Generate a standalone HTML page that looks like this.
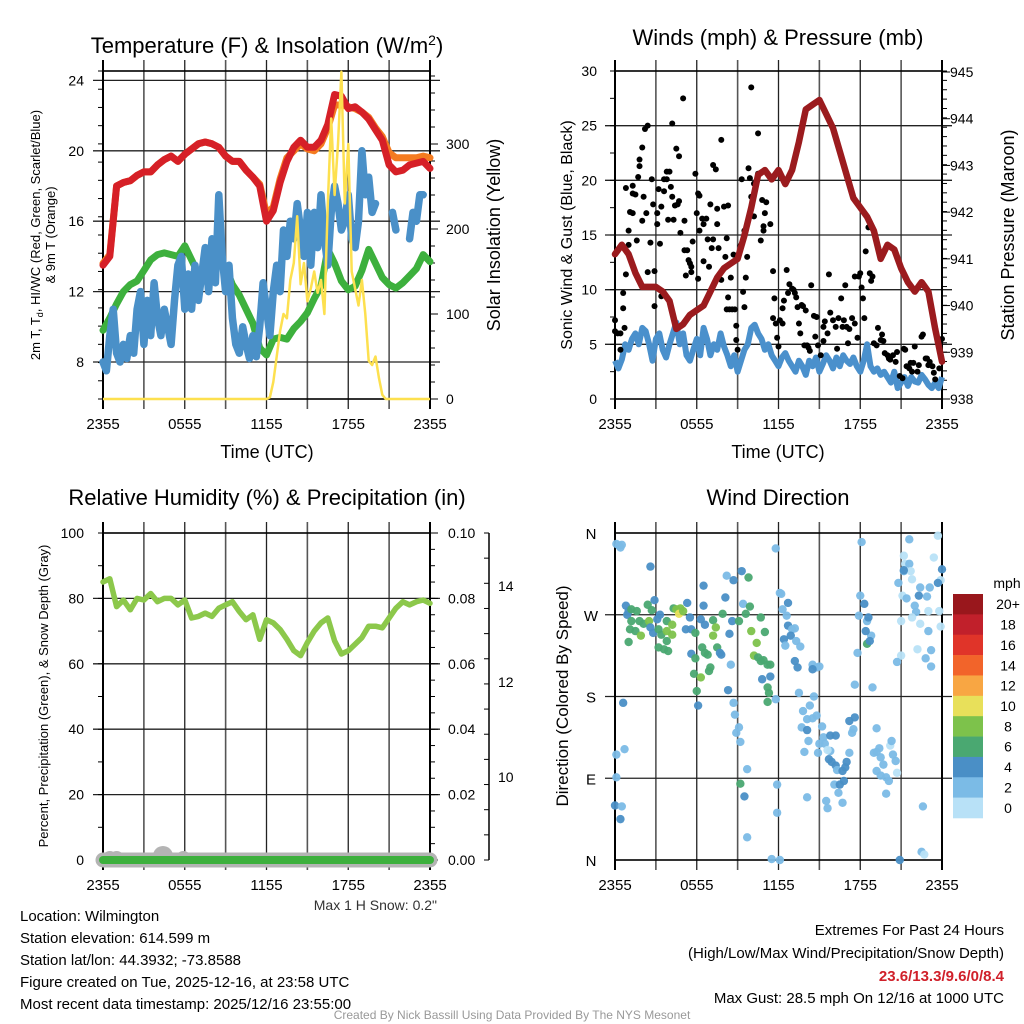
<!DOCTYPE html>
<html><head><meta charset="utf-8"><style>
html,body{margin:0;padding:0;background:#fff}
svg{display:block;font-family:"Liberation Sans",sans-serif}
</style></head><body>
<svg id="root" width="1024" height="1024" viewBox="0 0 1024 1024" xmlns="http://www.w3.org/2000/svg">
<g id="p1"></g>
<g id="p2"></g>
<g id="p3"></g>
<g id="p4"></g>
<g id="txt">
<text x="20" y="921" font-size="15">Location: Wilmington</text>
<text x="20" y="943" font-size="15">Station elevation: 614.599 m</text>
<text x="20" y="965" font-size="15">Station lat/lon: 44.3932; -73.8588</text>
<text x="20" y="987" font-size="15">Figure created on Tue, 2025-12-16, at 23:58 UTC</text>
<text x="20" y="1009" font-size="15">Most recent data timestamp: 2025/12/16 23:55:00</text>
<text x="1004" y="935" font-size="15" text-anchor="end">Extremes For Past 24 Hours</text>
<text x="1004" y="958" font-size="15" text-anchor="end">(High/Low/Max Wind/Precipitation/Snow Depth)</text>
<text x="1004" y="981" font-size="15" font-weight="bold" fill="#d0202a" text-anchor="end">23.6/13.3/9.6/0/8.4</text>
<text x="1004" y="1003" font-size="15" text-anchor="end">Max Gust: 28.5 mph On 12/16 at 1000 UTC</text>
<text x="512" y="1019" font-size="12" fill="#999" text-anchor="middle">Created By Nick Bassill Using Data Provided By The NYS Mesonet</text>
<text x="437" y="910" font-size="14" fill="#333" text-anchor="end">Max 1 H Snow: 0.2"</text>
</g>
</svg>
<script>
// ---- data ----
const xTickLabels = ["2355","0555","1155","1755","2355"];
const airTemp = [13.5,14.0,18.0,18.2,18.3,18.6,18.8,18.8,19.2,19.5,19.7,19.4,19.8,20.1,20.4,20.5,20.4,20.2,19.7,19.4,19.4,18.9,18.5,18.0,16.0,16.6,18.2,19.4,20.2,20.6,20.2,20.2,20.6,21.5,23.2,23.1,22.4,22.5,22.2,21.8,21.2,20.6,19.2,18.8,18.9,19.2,19.3,19.4,19.0];
const temp9m = [13.6,14.1,18.0,18.2,18.3,18.6,18.8,18.8,19.2,19.5,19.7,19.4,19.8,20.1,20.4,20.5,20.4,20.2,19.7,19.4,19.4,18.9,18.5,18.1,16.4,16.8,18.4,19.6,20.0,20.4,20.1,20.0,20.4,21.3,22.6,22.6,22.5,22.4,22.2,21.9,21.3,20.8,19.9,19.6,19.6,19.6,19.6,19.7,19.6];
const dewPoint = [9.8,10.5,11.3,12.0,12.4,12.6,13.2,13.8,14.1,14.2,14.1,14.0,14.6,13.8,13.0,13.6,14.0,13.9,13.4,12.4,11.8,11.0,10.2,8.8,8.4,9.3,9.4,9.3,9.9,10.3,10.8,11.6,12.3,14.4,13.6,12.6,12.1,12.3,13.2,14.4,13.6,12.8,12.4,12.2,12.5,12.9,13.3,14.1,13.7];
const windChill = [8.0,7.5,9.5,11.0,8.5,8.0,9.0,8.2,9.5,8.5,11.0,12.0,9.0,11.5,9.5,12.5,10.5,9.5,11.0,10.0,9.0,11.5,13.5,14.0,11.0,13.0,11.0,13.5,11.5,13.0,14.5,12.0,15.0,12.5,17.5,14.0,12.0,13.5,10.5,9.0,8.5,10.0,9.0,8.2,9.5,8.3,10.0,12.5,11.0,9.5,12.0,13.5,12.0,15.5,14.0,16.0,15.0,17.0,15.5,14.0,16.5,13.5,16.5,14.5,17.5,15.0,13.5,16.5,18.0,17.0,15.5,16.0,17.5,15.0,14.5,16.0,20.0,17.5,18.5,16.5,17.0,null,17.0,null,null,16.5,15.5,null,16.5,null,15.0,16.5,16.0,17.5,17.5,null,null];
const insolation = [0,0,0,0,0,0,0,0,0,0,0,0,0,0,0,0,0,0,0,0,0,0,0,0,0,0,0,0,0,0,0,0,0,0,0,0,0,0,0,0,0,0,0,0,0,0,0,0,0,2,20,50,80,100,95,140,160,215,135,160,115,130,150,125,140,100,230,330,240,300,385,230,300,150,130,110,140,100,45,40,50,25,5,0,0,0,0,0,0,0,0,0,0,0,0,0,0];
const pressure = [941.1,941.3,941.1,940.7,940.4,940.4,940.4,940.3,940.1,939.5,939.6,939.8,939.9,940.0,940.3,940.6,940.8,940.9,941.0,941.5,942.1,942.8,942.9,942.7,942.9,942.6,942.9,943.5,944.2,944.3,944.4,944.1,943.8,943.3,942.8,942.3,942.1,941.9,941.6,941.0,941.3,941.2,940.8,940.5,940.3,940.5,940.3,939.5,938.8];
const sonicWind = [3.5,2.8,3.6,5.0,4.5,5.5,6.0,5.0,6.5,6.2,5.0,3.5,5.5,6.0,4.5,3.8,5.0,6.0,7.0,5.0,6.0,4.0,3.5,4.5,5.5,4.0,6.5,5.5,4.0,5.0,4.5,6.0,4.8,4.0,3.0,4.0,2.5,3.5,4.5,5.0,6.5,6.8,6.0,5.5,4.5,5.0,4.0,3.5,3.0,3.8,4.2,3.5,3.0,2.5,3.5,3.0,2.2,3.5,3.0,3.8,2.5,3.2,4.0,3.5,2.8,3.8,3.0,4.0,3.5,3.2,3.8,3.0,2.5,3.5,5.0,3.0,2.5,2.8,2.2,2.5,2.0,1.5,2.5,1.0,1.5,2.0,1.2,2.0,1.6,1.5,2.2,1.8,1.3,1.0,1.5,1.0,2.0];
const gustHours = [0,0,0.2,0.4,0.4,0.6,0.6,0.7,0.8,0.8,1.0,1.0,1.1,1.3,1.3,1.3,1.5,1.6,1.7,1.8,1.8,2.0,2.0,2.1,2.2,2.4,2.3,2.4,2.6,2.7,2.8,2.9,2.9,3.1,3.1,3.2,3.3,3.4,3.4,3.6,3.6,3.8,3.8,3.9,4.0,4.1,4.2,4.2,4.3,4.4,4.5,4.6,4.7,4.7,4.8,5.0,5.1,5.1,5.3,5.2,5.4,5.5,5.6,5.6,5.7,5.9,6.0,6.1,6.1,6.2,6.2,6.4,6.5,6.5,6.7,6.8,6.9,7.0,7.1,7.2,7.2,7.4,7.5,7.5,7.6,7.8,7.8,8.0,8.1,8.2,8.3,8.2,8.3,8.4,8.5,8.6,8.7,8.8,8.9,8.9,9.0,9.2,9.3,9.4,9.5,9.5,9.6,9.7,9.8,9.9,10.0,10.0,10.2,10.2,10.5,10.5,10.7,10.8,10.9,10.9,11.0,11.1,11.4,11.6,11.6,11.7,11.8,11.9,12.0,12.1,12.3,12.3,12.4,12.6,12.7,12.8,13.0,13.1,13.2,13.3,13.4,13.5,13.6,13.7,13.8,13.9,14.0,14.1,14.2,14.3,14.4,14.6,14.7,14.8,14.9,15.1,15.3,15.3,15.4,15.6,15.7,15.8,16.0,16.2,16.3,16.4,16.6,16.7,16.8,16.9,17.0,17.1,17.2,17.4,17.6,17.6,17.8,17.9,18.0,18.1,18.2,18.3,18.4,18.6,18.7,18.8,18.9,19.0,19.2,19.3,19.5,19.6,19.7,19.8,20.0,20.1,20.2,20.4,20.6,20.7,20.9,21.1,21.2,21.3,21.4,21.6,21.7,21.8,21.9,22.0,22.2,22.3,22.5,22.6,22.8,22.9,23.0,23.1,23.3,23.4,23.5,23.8,24.0];
const gustValues = [7.2,6.2,6.0,6.0,4.5,8.3,9.7,6.5,11.4,19.3,15.4,14.1,17.1,17.0,19.5,18.8,18.7,14.5,20.3,21.3,21.9,16.3,23.0,18.5,24.7,25.0,17.0,11.6,14.3,20.1,17.8,11.7,8.5,17.0,16.0,19.2,14.2,9.4,17.6,20.1,19.0,20.8,20.1,16.4,20.8,19.4,25.2,18.5,16.4,17.7,22.9,17.8,22.2,18.1,15.2,27.5,13.6,16.3,13.6,11.3,12.7,12.4,11.6,12.1,14.4,20.6,17.0,18.8,11.0,15.4,18.6,16.5,16.0,12.6,16.5,14.6,12.1,17.8,13.8,14.6,21.4,21.0,17.4,16.0,13.8,23.7,10.9,17.6,13.0,14.7,17.7,8.2,9.3,8.2,11.1,8.2,13.2,8.2,6.7,5.4,4.5,14.0,20.1,9.8,8.4,15.4,11.1,13.0,21.1,20.2,18.5,28.5,16.7,19.7,24.3,20.6,14.5,18.2,15.8,15.4,17.0,18.0,16.0,7.4,11.7,9.2,6.9,5.6,4.8,7.2,6.9,8.3,9.0,11.8,9.7,10.5,10.1,10.0,9.7,9.3,8.4,6.9,6.0,8.6,8.5,4.9,8.1,4.9,4.7,4.4,10.4,7.6,5.7,7.5,4.9,4.0,5.3,6.6,7.1,6.0,11.4,7.9,7.2,6.6,4.6,7.4,9.2,6.6,7.2,10.4,6.6,5.1,6.4,7.4,6.9,11.2,5.6,11.2,11.5,10.2,9.2,7.4,13.5,15.7,11.5,10.8,11.2,5.1,4.9,6.5,5.4,5.9,5.3,4.2,4.0,3.7,3.6,4.0,3.4,4.3,2.1,1.9,4.6,4.5,3.0,2.8,3.3,2.5,3.3,4.8,2.5,3.1,5.7,5.9,3.7,3.7,3.1,3.4,3.0,2.4,1.8,2.8,5.5];
const rhPercent = [85,86,77.5,79.5,76.5,80,79.5,81.5,79,80,80,78,79.5,74,74.5,75.5,74.5,77,78,79,76,73.5,75,67.5,73.5,72.5,70.5,67.5,64,62.5,66.5,70,72.5,74,67,63,64,66,68,71.5,71.5,71,74,77,79,78,79,79.5,78.5];
const precipIn = [0,0,0,0,0,0,0,0,0,0,0,0,0,0,0,0,0,0,0,0,0,0,0,0,0];
const snowBumpHours = [0.5,1.0,4.4,5.9];
const dirHours = [0.1,0.3,0.4,0.5,2.6,0.8,1.0,0.9,1.2,1.6,2.4,2.7,2.9,3.3,3.1,1.8,1.2,1.0,1.1,1.5,1.9,2.1,2.5,2.6,2.8,3.2,3.4,3.8,3.8,3.8,3.2,3.6,3.9,4.2,4.2,4.3,4.5,4.8,4.7,5.0,5.3,5.5,5.2,5.6,5.9,6.3,6.5,6.5,6.6,6.4,6.6,6.8,7.2,7.4,7.2,7.5,7.7,7.8,7.9,8.1,8.2,8.7,9.3,9.8,9.4,9.9,9.6,8.6,8.4,9.1,10.0,10.4,10.7,11.0,10.2,10.5,10.7,10.9,11.2,11.4,7.0,6.9,5.8,6.3,5.6,5.9,8.5,11.4,10.8,11.2,11.3,11.2,11.8,8.3,6.0,6.1,8.7,8.8,9.1,8.9,9.2,9.7,9.2,9.5,9.7,0.6,0.7,0.1,0.1,0,0.5,0.4,11.9,11.9,11.5,12.1,11.8,12.1,12.2,12.3,12.7,12.6,12.7,13.0,12.4,12.9,13.2,13.3,13.6,12.5,13.2,13.4,13.5,14.5,14.8,15.0,14.5,14.6,14.3,13.8,14.1,14.5,14.8,13.7,14.1,14.2,13.9,15.2,15.3,15.0,15.4,15.8,16.2,15.8,15.6,14.9,15.7,15.9,16.2,16.3,16.7,16.9,17.0,17.2,17.4,17.5,17.2,17.6,16.1,16.5,16.8,16.4,16.7,15.5,15.6,14.1,17.6,17.8,18.0,18.1,18.3,17.9,18.5,18.6,18.8,18.4,18.5,18.7,18.9,19.2,19.0,19.2,19.4,19.5,19.7,19.2,19.5,19.9,20.1,19.9,20.2,20.3,20.4,20.6,20.7,20.9,22.6,22.5,22.7,20.8,21.2,21.2,21.3,21.6,21.7,21.8,21.6,21.2,21.1,21.4,22.0,22.1,21.8,22.4,21.0,22.2,21.0,20.7,22.3,22.4,22.9,23.0,23.1,23.0,23.2,22.8,23.2,23.4,23.7,23.8,23.9,23.9,24.0,23.7];
const dirDegrees = [348,346,344,347,323,280,274,270,276,274,281,275,286,270,265,263,263,240,254,252,247,260,263,256,250,254,248,263,252,241,234,232,230,259,248,277,276,277,271,274,283,267,254,254,250,265,302,280,259,234,228,226,264,256,247,234,228,226,271,289,313,308,318,311,282,279,271,263,249,263,252,239,267,251,225,223,219,220,215,215,212,208,205,201,227,222,215,202,199,190,184,174,177,187,186,170,173,160,146,140,130,100,84,70,25,173,122,116,91,60,59,45,83,52,1,0,343,294,293,276,283,269,258,254,243,247,255,241,235,236,219,212,184,215,212,213,210,180,170,164,155,156,159,146,143,131,119,147,135,128,128,137,137,120,121,118,111,108,104,99,98,102,108,118,140,144,153,157,83,83,87,74,63,65,57,69,193,228,291,350,282,269,263,267,247,252,238,241,190,145,118,119,123,113,105,98,93,91,87,73,126,131,116,109,96,0,59,9,6,305,318,335,326,326,318,309,353,319,291,288,280,273,267,260,263,232,225,218,291,300,290,274,300,252,231,222,213,333,357,274,257,308,320,305];
const dirSpeeds = [3,3,3,3,5,5,5,5,7,7,7,7,5,5,5,7,7,7,7,7,9,7,9,5,5,7,7,7,9,7,7,7,7,9,9,7,9,9,11,9,5,5,5,5,7,5,5,5,5,7,7,7,7,9,9,7,5,5,7,5,3,5,5,7,3,7,7,5,5,7,9,9,7,7,9,7,7,7,7,7,7,7,7,9,5,7,3,5,5,7,7,7,3,5,7,5,3,3,3,3,3,3,7,5,3,5,3,3,3,5,3,5,3,3,3,3,3,3,3,3,5,3,5,3,5,5,3,3,3,3,5,5,3,3,3,3,5,3,3,3,3,3,3,3,5,3,3,3,3,3,3,5,5,3,1,3,5,5,5,3,5,5,5,3,3,3,5,5,3,5,5,3,3,3,3,3,3,3,3,3,5,3,3,5,3,5,7,5,3,3,3,3,3,3,3,3,3,3,3,3,1,3,3,3,1,5,3,3,1,3,3,1,1,3,1,1,2,5,1,3,3,3,1,1,1,1,1,3,5,3,3,1,3,3,3,3,3,1,1,1,1,1,5,5,1];
const speedBinLabels = ["20+","18","16","14","12","10","8","6","4","2","0"];
const speedBinColors = ["#99171c","#c1202b","#e03429","#f2642a","#f8a643","#e8e05a","#7dc24b","#4aa871","#4a8fc6","#7bbbe6","#b8e1f7"];

const NS="http://www.w3.org/2000/svg";
function mk(parent,tag,attrs,text){const e=document.createElementNS(NS,tag);for(const k in attrs)e.setAttribute(k,attrs[k]);if(text!==undefined)e.textContent=text;parent.appendChild(e);return e;}
function pathFrom(vals,step,sx,sy){let d="",pen=false;vals.forEach((v,i)=>{if(v===null||v===undefined){pen=false;return;}const x=sx(i*step),y=sy(v);d+=(pen?"L":"M")+x.toFixed(1)+","+y.toFixed(1);pen=true;});return d;}

function frame(g,x0,x1,y0,y1,hGrid,nameBase){
  for(let h=3;h<24;h+=3){const x=x0+h*(x1-x0)/24;
    const l=mk(g,"line",{x1:x,x2:x,y1:y0-11,y2:y1+10,stroke:h%6===0?"#222":"#555","stroke-width":h%6===0?1.3:1.6});
    
    }
  hGrid.forEach(y=>{const l=mk(g,"line",{x1:x0-10,x2:x1+10,y1:y,y2:y,stroke:"#222","stroke-width":1.3});
    
    });
  const r=mk(g,"rect",{x:x0,y:y0,width:x1-x0,height:y1-y0,fill:"none",stroke:"#000","stroke-width":1.6});
  
  
  [x0,x1].forEach(x=>{const l=mk(g,"line",{x1:x,x2:x,y1:y0-11,y2:y1+10,stroke:"#000","stroke-width":2});
    
    });
  xTickLabels.forEach((s,i)=>{const t=mk(g,"text",{x:x0+i*6*(x1-x0)/24,y:y1+30,"font-size":15,"text-anchor":"middle"},s);
    
    });
}
function minorTicks(g,x,yA,yB,n,dir){for(let i=0;i<=n;i++){const y=yA+(yB-yA)*i/n;const l=mk(g,"line",{x1:x,x2:x+dir*5,y1:y,y2:y,stroke:"#000","stroke-width":1});
  
  }}

// ---- Panel 1 ----
(function(){
  const g=document.getElementById('p1');const x0=103,x1=430,y0=71,y1=399;
  const sx=h=>x0+h*(x1-x0)/24, sy=v=>362-(v-8)*17.6, sr=w=>399-w*0.85;
  frame(g,x0,x1,y0,y1,[8,12,16,20,24].map(sy),'temperature');
  [8,12,16,20,24].forEach(v=>{const t=mk(g,"text",{x:84,y:sy(v)+5,"font-size":14,"text-anchor":"end"},v);
    
    });
  minorTicks(g,x0,y1,y0,18,-1);
  [0,100,200,300].forEach(v=>{const t=mk(g,"text",{x:446,y:sr(v)+5,"font-size":14},v);
    
    
    const l=mk(g,"line",{x1:x1,x2:x1+8,y1:sr(v),y2:sr(v),stroke:"#000"});
    
    });
  minorTicks(g,x1,y1,sr(380),19,1);
  const series=[[temp9m,"#f47b20",7,'orange-9m-temp-line'],[airTemp,"#d62027",7,'red-air-temp-line'],[dewPoint,"#3db03d",7,'green-dewpoint-line']];
  series.forEach(s=>{const p=mk(g,"path",{d:pathFrom(s[0],0.5,sx,sy),fill:"none",stroke:s[1],"stroke-width":s[2],"stroke-linejoin":"round","stroke-linecap":"round"});
    
    });
  const pb=mk(g,"path",{d:pathFrom(windChill,0.25,sx,sy),fill:"none",stroke:"#4a90c8","stroke-width":7.5,"stroke-linejoin":"round","stroke-linecap":"round"});
  
  
  const py=mk(g,"path",{d:pathFrom(insolation,0.25,sx,v=>sr(v)),fill:"none",stroke:"#fde04f","stroke-width":2.5,"stroke-linejoin":"round"});
  
  
  const t1=mk(g,"text",{x:267,y:53,"font-size":22,"text-anchor":"middle"});
  
  
  t1.innerHTML='Temperature (F) &amp; Insolation (W/m<tspan dy="-8" font-size="14">2</tspan><tspan dy="8">)</tspan>';
  const xl=mk(g,"text",{x:267,y:458,"font-size":18,"text-anchor":"middle"},"Time (UTC)");
  
  
  const yl=mk(g,"text",{transform:"translate(40,235) rotate(-90)","font-size":13,"text-anchor":"middle"});
  
  
  yl.innerHTML='2m T, T<tspan dy="3" font-size="9">d</tspan><tspan dy="-3">, HI/WC (Red, Green, Scarlet/Blue)</tspan>';
  const yl2=mk(g,"text",{transform:"translate(55,235) rotate(-90)","font-size":13,"text-anchor":"middle"},"& 9m T (Orange)");
  
  
  const yr=mk(g,"text",{transform:"translate(500,235) rotate(-90)","font-size":18,"text-anchor":"middle"},"Solar Insolation (Yellow)");
  
  
})();

// ---- Panel 2 ----
(function(){
  const g=document.getElementById('p2');const x0=615,x1=942,y0=71,y1=399;
  const sx=h=>x0+h*(x1-x0)/24, sy=v=>399-v*(328/30), sp=p=>399-(p-938)*(327/7);
  frame(g,x0,x1,y0,y1,[5,10,15,20,25].map(sy),'winds');
  [0,5,10,15,20,25,30].forEach(v=>{const t=mk(g,"text",{x:597,y:sy(v)+5,"font-size":14,"text-anchor":"end"},v);
    
    });
  minorTicks(g,x0,y1,y0,12,-1);
  [938,939,940,941,942,943,944,945].forEach(v=>{const t=mk(g,"text",{x:950,y:sp(v)+5,"font-size":14},v);
    
    
    const l=mk(g,"line",{x1:x1,x2:x1+8,y1:sp(v),y2:sp(v),stroke:"#000"});
    
    });
  minorTicks(g,x1,y1,y0,35,1);
  const pw=mk(g,"path",{d:pathFrom(sonicWind,0.25,sx,sy),fill:"none",stroke:"#4a90cc","stroke-width":6,"stroke-linejoin":"round"});
  
  
  gustHours.forEach((h,i)=>{const c=mk(g,"circle",{cx:sx(h),cy:sy(gustValues[i]),r:3,fill:"#000"});
    
    });
  const pp=mk(g,"path",{d:pathFrom(pressure,0.5,sx,sp),fill:"none",stroke:"#9b1b1e","stroke-width":6.5,"stroke-linejoin":"round","stroke-linecap":"round"});
  
  
  const t=mk(g,"text",{x:778,y:45,"font-size":22,"text-anchor":"middle"},"Winds (mph) & Pressure (mb)");
  
  
  const xl=mk(g,"text",{x:778,y:458,"font-size":18,"text-anchor":"middle"},"Time (UTC)");
  
  
  const yl=mk(g,"text",{transform:"translate(572,235) rotate(-90)","font-size":16,"text-anchor":"middle"},"Sonic Wind & Gust (Blue, Black)");
  
  
  const yr=mk(g,"text",{transform:"translate(1014,235) rotate(-90)","font-size":18,"text-anchor":"middle"},"Station Pressure (Maroon)");
  
  
})();

// ---- Panel 3 ----
(function(){
  const g=document.getElementById('p3');const x0=103,x1=430,y0=533,y1=860;
  const sx=h=>x0+h*(x1-x0)/24, sy=v=>860-v*3.27, sq=p=>860-p*3270;
  frame(g,x0,x1,y0,y1,[20,40,60,80].map(sy),'humidity');
  [0,20,40,60,80,100].forEach(v=>{const t=mk(g,"text",{x:84,y:sy(v)+5,"font-size":14,"text-anchor":"end"},v);
    
    });
  minorTicks(g,x0,y1,y0,10,-1);
  ["0.00","0.02","0.04","0.06","0.08","0.10"].forEach((s,i)=>{const t=mk(g,"text",{x:448,y:sq(i*0.02)+5,"font-size":14},s);
    
    
    const l=mk(g,"line",{x1:x1,x2:x1+8,y1:sq(i*0.02),y2:sq(i*0.02),stroke:"#000"});
    
    });
  minorTicks(g,x1,y1,y0,20,1);
  const sa=mk(g,"line",{x1:489,x2:489,y1:533,y2:860,stroke:"#000","stroke-width":1.5});
  
  
  [[14,586],[12,682],[10,777]].forEach(a=>{const t=mk(g,"text",{x:498,y:a[1]+5,"font-size":14},a[0]);
    
    });
  minorTicks(g,489,860,533,13,-1);
  const sg=mk(g,"line",{x1:sx(0),x2:sx(24),y1:sy(0),y2:sy(0),stroke:"#b4b4b4","stroke-width":15,"stroke-linecap":"round"});
  
  
  snowBumpHours.forEach((h,i)=>{const c=mk(g,"circle",{cx:sx(h),cy:sy(0)-(i===2?4:1),r:i===2?10:8,fill:"#b4b4b4"});
    
    });
  const pg=mk(g,"path",{d:pathFrom(precipIn,1,sx,sq),fill:"none",stroke:"#3db03d","stroke-width":8,"stroke-linecap":"round"});
  
  
  const ph=mk(g,"path",{d:pathFrom(rhPercent,0.5,sx,sy),fill:"none",stroke:"#8cc84b","stroke-width":5.5,"stroke-linejoin":"round","stroke-linecap":"round"});
  
  
  const t=mk(g,"text",{x:267,y:505,"font-size":22,"text-anchor":"middle"},"Relative Humidity (%) & Precipitation (in)");
  
  
  const yl=mk(g,"text",{transform:"translate(48,696) rotate(-90)","font-size":13,"text-anchor":"middle"},"Percent, Precipitation (Green), & Snow Depth (Gray)");
  
  
})();

// ---- Panel 4 ----
(function(){
  const g=document.getElementById('p4');const x0=615,x1=942,y0=533,y1=860;
  const sx=h=>x0+h*(x1-x0)/24, sy=d=>860-d*(327/360);
  frame(g,x0,x1,y0,y1,[90,180,270].map(sy),'direction');
  ["N","E","S","W","N"].forEach((s,i)=>{const t=mk(g,"text",{x:591,y:sy(i*90)+6,"font-size":15,"text-anchor":"middle"},s);
    
    });
  function col(s){const b=Math.min(10,Math.floor(s/2));return speedBinColors[10-b];}
  dirHours.forEach((h,i)=>{const c=mk(g,"circle",{cx:sx(h),cy:sy(dirDegrees[i]),r:4.2,fill:col(dirSpeeds[i]),"fill-opacity":0.95});
    
    });
  const t=mk(g,"text",{x:778,y:505,"font-size":22,"text-anchor":"middle"},"Wind Direction");
  
  
  const yl=mk(g,"text",{transform:"translate(568,696) rotate(-90)","font-size":17,"text-anchor":"middle"},"Direction (Colored By Speed)");
  
  
  const mph=mk(g,"text",{x:1007,y:588,"font-size":14,"text-anchor":"middle"},"mph");
  
  
  const bh=(818-594)/11;
  speedBinLabels.forEach((s,i)=>{const r=mk(g,"rect",{x:953,y:594+i*bh,width:30,height:bh+0.3,fill:speedBinColors[i]});
    
    
    const tl=mk(g,"text",{x:1008,y:594+i*bh+bh/2+5,"font-size":14,"text-anchor":"middle"},s);
    
    });
})();
</script>
</body></html>
